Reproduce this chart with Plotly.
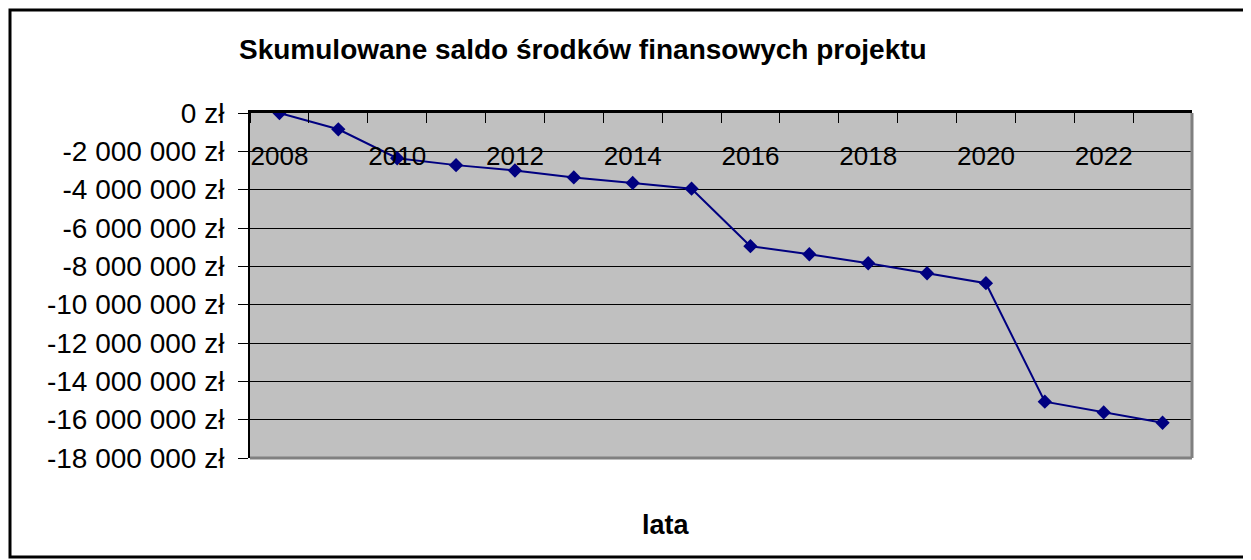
import plotly.graph_objects as go

# lata i skumulowane saldo (zł)
lata = list(range(2008, 2024))
saldo = [0, -850000, -2360000, -2720000, -3000000, -3360000, -3650000, -3950000,
         -6950000, -7370000, -7840000, -8360000, -8880000, -15060000, -15620000, -16160000]

y_ticks = list(range(-18000000, 1, 2000000))
y_labels = [f"{v:,}".replace(",", " ") + " zł" for v in y_ticks]
x_labels = lata[::2]

# strona ma 8 px marginesu body, więc współrzędne liczone od (8, 8)
OFF = 8
W, H = 1251 - OFF, 560 - OFF
L, R, T, B = 250 - OFF, 1192 - OFF, 113 - OFF, 458 - OFF
pw, ph = R - L, B - T

def px(x):
    return (x - OFF - L) / pw

def py(y):
    return (B - (y - OFF)) / ph

fig = go.Figure()

fig.add_trace(go.Scatter(
    x=lata,
    y=saldo,
    mode='lines+markers',
    line=dict(color="#000080", width=2),
    marker=dict(symbol='diamond', size=11, color="#000080"),
    showlegend=False))

# niewidoczna seria dla osi z etykietami lat
fig.add_trace(go.Scatter(x=lata, y=saldo, xaxis='x2', mode='markers',
                         marker=dict(opacity=0), hoverinfo='skip', showlegend=False))

fig.update_layout(
    width=W, height=H,
    margin=dict(l=L, r=W - R, t=T, b=H - B),
    paper_bgcolor="white",
    plot_bgcolor="#C0C0C0",
    font=dict(family="Liberation Sans, Arial", color="black"),
    xaxis=dict(
        range=[lata[0] - 0.5, lata[-1] + 0.5],
        side='top',
        showticklabels=False,
        ticks='',
        showgrid=False,
        zeroline=False,
        showline=True, linecolor="black", linewidth=3,
        minor=dict(tickvals=[v - 0.5 for v in lata] + [lata[-1] + 0.5],
                   ticks='inside', ticklen=10, tickcolor="black", tickwidth=1,
                   showgrid=False),
    ),
    xaxis2=dict(
        range=[lata[0] - 0.5, lata[-1] + 0.5],
        overlaying='x',
        side='top',
        anchor='free',
        position=py(170),
        tickvals=x_labels,
        ticktext=[str(v) for v in x_labels],
        ticks='',
        tickfont=dict(size=26, color="black"),
        showgrid=False, zeroline=False, showline=False,
    ),
    yaxis=dict(
        range=[y_ticks[0], y_ticks[-1]],
        tickvals=y_ticks,
        ticktext=y_labels,
        ticks='outside', ticklen=10, tickcolor="black",
        ticklabelstandoff=8,
        tickfont=dict(size=28, color="black"),
        showgrid=True, gridcolor="black", gridwidth=1,
        zeroline=False,
        showline=True, linecolor="black", linewidth=2,
    ),
)

# szare krawędzie obszaru wykresu
fig.add_shape(type='line', xref='paper', yref='paper', x0=1, x1=1, y0=0, y1=1,
              line=dict(color="#808080", width=3))
fig.add_shape(type='line', xref='paper', yref='paper', x0=0, x1=1, y0=0, y1=0,
              line=dict(color="#808080", width=3))

# ramka całego wykresu
fig.add_shape(type='rect', xref='paper', yref='paper',
              x0=px(10), x1=px(1245),
              y0=py(557), y1=py(10),
              line=dict(color="black", width=3))

fig.add_annotation(text="<b>Skumulowane saldo środków finansowych projektu</b>",
                   xref='paper', yref='paper',
                   x=px(583), y=py(50), xanchor='center', yanchor='middle',
                   showarrow=False, font=dict(size=28))
fig.add_annotation(text="<b>lata</b>",
                   xref='paper', yref='paper',
                   x=px(666), y=py(525), xanchor='center', yanchor='middle',
                   showarrow=False, font=dict(size=27))

fig.write_html("out.html")
